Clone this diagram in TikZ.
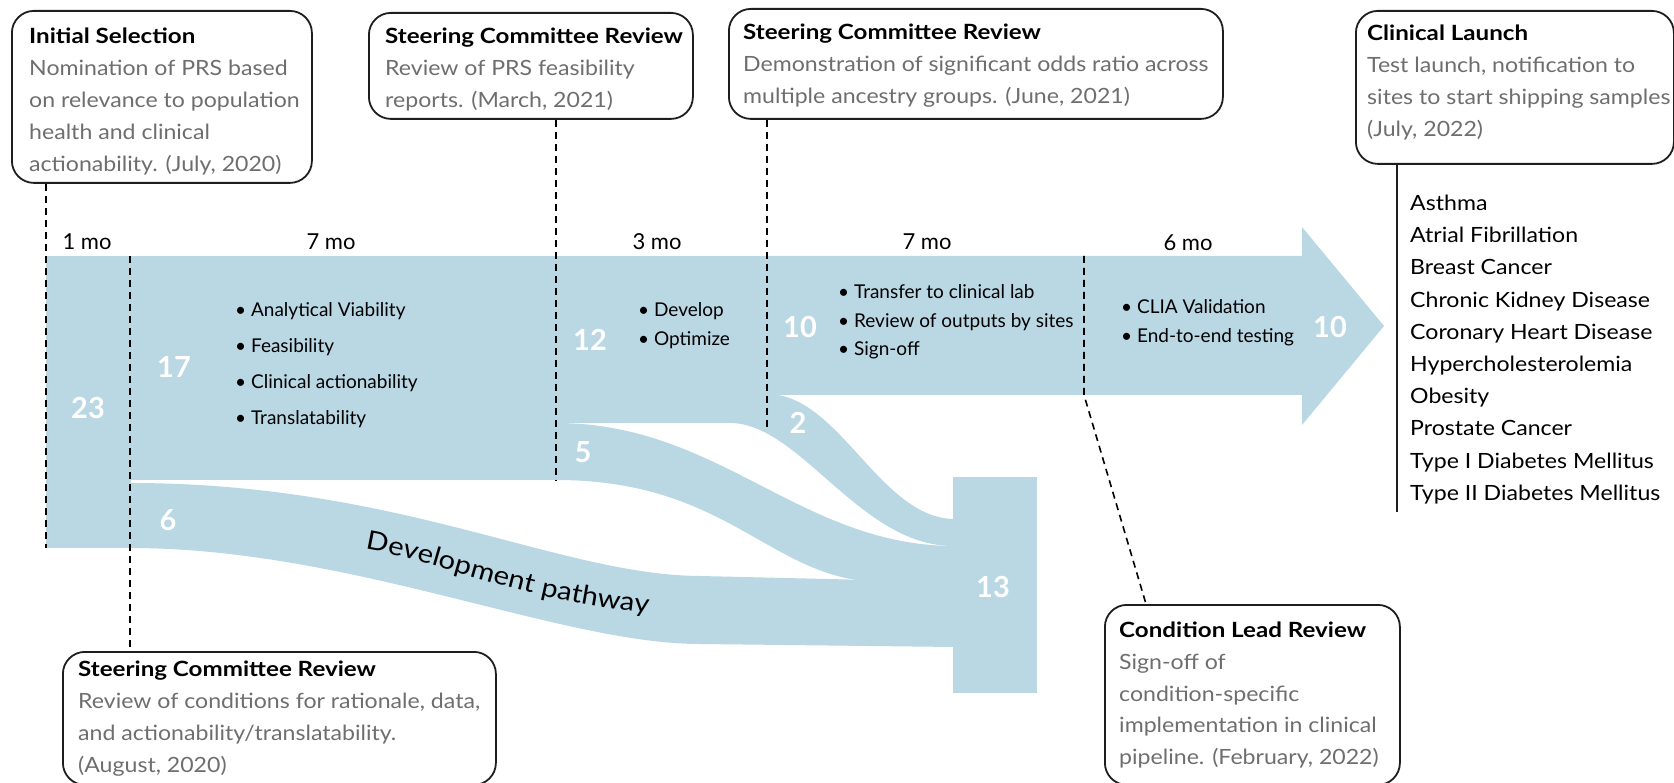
\documentclass[tikz,border=0pt]{standalone}
\usepackage{fontspec}
\setmainfont{Lato}
\newfontfamily\widef{Lato}[FakeStretch=1.1]
\newfontfamily\headf{Lato}[FakeStretch=1.15]
\newfontfamily\pathf{Lato}[FakeStretch=1.12]
\usetikzlibrary{decorations.text}
\definecolor{flow}{HTML}{BAD7E4}
\definecolor{bodygray}{HTML}{6E6E6E}
\definecolor{edge}{HTML}{1E1E1E}
\newcommand{\gr}{\color{bodygray}}
\newcommand{\hd}[1]{{\headf\bfseries #1}}
\begin{document}
\begin{tikzpicture}[x=1pt,y=-1pt,
  cbox/.style={draw=edge, line width=1.8pt, rounded corners=22pt, inner sep=0pt, anchor=north west},
  txt/.style={anchor=base west, inner sep=0pt},
  boxfont/.style={font=\widef\fontsize{21}{32}\selectfont},
  dashln/.style={draw=black, line width=1.6pt, dash pattern=on 7pt off 5pt},
  num/.style={text=white, font=\bfseries\fontsize{29}{29}\selectfont, inner sep=0pt},
  mo/.style={font=\fontsize{22}{22}\selectfont, inner sep=0pt},
]
\useasboundingbox (0,0) rectangle (1674,783);
\clip (0,0) rectangle (1674,783);

% ---- flows ----
\fill[flow] (46,256) rectangle (131,548);
\fill[flow] (130,256) rectangle (557,480);
\fill[flow] (556,256) rectangle (769,423);
\fill[flow] (768,256) -- (1302,256) -- (1302,227) -- (1384,326) -- (1302,425) -- (1302,395) -- (768,395) -- cycle;
\fill[flow] (768,394) .. controls (840,395) and (880,519) .. (955,519) -- (955,546) -- (953,546)
   .. controls (860,546) and (800,423) .. (730,423) -- (730,420) -- cycle;
\fill[flow] (556,423) .. controls (720,423) and (800,546) .. (955,546) -- (955,590) -- (880,582)
   .. controls (770,580) and (730,480) .. (556,480) -- cycle;
\fill[flow] (130,483) .. controls (400,483) and (558,575) .. (700,576) -- (955,582) -- (955,647) -- (700,644)
   .. controls (560,644) and (350,548) .. (130,548) -- cycle;
\fill[flow] (953,477) rectangle (1037,693);

% ---- numbers ----
\node[num] (n23) at (88,408) {23};
\node[num] (n17) at (174,367) {17};
\node[num] (n6) at (168,520) {6};
\node[num] (n12) at (590,340) {12};
\node[num] (n5) at (583,452) {5};
\node[num] (n10a) at (800,327) {10};
\node[num] (n2) at (798,423) {2};
\node[num] (n10b) at (1330,327) {10};
\node[num] (n13) at (993,587) {13};

% ---- month labels ----
\node[mo] (m1) at (87,242) {1 mo};
\node[mo] (m2) at (331,242) {7 mo};
\node[mo] (m3) at (657,242) {3 mo};
\node[mo] (m4) at (927,242) {7 mo};
\node[mo] (m5) at (1188,243) {6 mo};

% ---- bullet lists ----
\node[txt, font=\fontsize{19}{36}\selectfont] (l17) at (235,317) {\begin{tabular}[t]{@{}l@{}}• Analytical Viability\\ • Feasibility\\ • Clinical actionability\\ • Translatability\end{tabular}};
\node[txt, font=\fontsize{19}{29}\selectfont] (l12) at (638,317) {\begin{tabular}[t]{@{}l@{}}• Develop\\ • Optimize\end{tabular}};
\node[txt, font=\fontsize{19}{28.5}\selectfont] (l10) at (838,299) {\begin{tabular}[t]{@{}l@{}}• Transfer to clinical lab\\ • Review of outputs by sites\\ • Sign-off\end{tabular}};
\node[txt, font=\fontsize{19}{29}\selectfont] (l10b) at (1121,314) {\begin{tabular}[t]{@{}l@{}}• CLIA Validation\\ • End-to-end testing\end{tabular}};

% ---- development pathway ----
\path[decorate, decoration={text along path, text align=left,
  text={|\pathf\fontsize{26}{26}\selectfont|Development pathway}}]
  (365,549) .. controls (450,563) and (540,612) .. (710,617);

% ---- boxes ----
\node[cbox, minimum width=300pt, minimum height=172pt] (b1) at (11,10) {};
\node[txt, boxfont] (t1) at (29,43.5) {\begin{tabular}[t]{@{}l@{}}\hd{Initial Selection}\\ \gr Nomination of PRS based\\ \gr on relevance to population\\ \gr health and clinical\\ \gr actionability. (July, 2020)\end{tabular}};

\node[cbox, minimum width=324pt, minimum height=106pt] (b2) at (368,12) {};
\node[txt, boxfont] (t2) at (385,43.5) {\begin{tabular}[t]{@{}l@{}}\hd{Steering Committee Review}\\ \gr Review of PRS feasibility\\ \gr reports. (March, 2021)\end{tabular}};

\node[cbox, minimum width=494pt, minimum height=110pt] (b3) at (728,8) {};
\node[txt, boxfont] (t3) at (743,39.5) {\begin{tabular}[t]{@{}l@{}}\hd{Steering Committee Review}\\ \gr Demonstration of significant odds ratio across\\ \gr multiple ancestry groups. (June, 2021)\end{tabular}};

\node[cbox, minimum width=318pt, minimum height=153pt] (b4) at (1355,10) {};
\node[txt, boxfont] (t4) at (1367,40.5) {\begin{tabular}[t]{@{}l@{}}\hd{Clinical Launch}\\ \gr Test launch, notification to\\ \gr sites to start shipping samples\\ \gr (July, 2022)\end{tabular}};

\node[cbox, minimum width=433pt, minimum height=133pt] (b5) at (62,651) {};
\node[txt, boxfont] (t5) at (78,676) {\begin{tabular}[t]{@{}l@{}}\hd{Steering Committee Review}\\ \gr Review of conditions for rationale, data,\\ \gr and actionability/translatability.\\ \gr (August, 2020)\end{tabular}};

\node[cbox, minimum width=295pt, minimum height=180pt] (b6) at (1104,604) {};
\node[txt, font=\widef\fontsize{21}{31.75}\selectfont] (t6) at (1119,637.5) {\begin{tabular}[t]{@{}l@{}}\hd{Condition Lead Review}\\ \gr Sign-off of\\ \gr condition-specific\\ \gr implementation in clinical\\ \gr pipeline. (February, 2022)\end{tabular}};

% ---- disease list ----
\node[txt, font=\widef\fontsize{21}{32.2}\selectfont] (dl) at (1410,210.5) {\begin{tabular}[t]{@{}l@{}}Asthma\\ Atrial Fibrillation\\ Breast Cancer\\ Chronic Kidney Disease\\ Coronary Heart Disease\\ Hypercholesterolemia\\ Obesity\\ Prostate Cancer\\ Type I Diabetes Mellitus\\ Type II Diabetes Mellitus\end{tabular}};

% ---- connectors ----
\coordinate (p23) at (46,548);
\coordinate (p17) at (130,256);
\coordinate (p12) at (556,480);
\coordinate (p2) at (767,430);
\coordinate (p10t) at (1084,256);
\coordinate (p10b) at (1084,395);
\coordinate (lst) at (1397,512);
\draw[dashln] (b1.south -| p23) -- (p23);
\draw[dashln] (p17) -- (p17 |- b5.north);
\draw[dashln] (b2.south -| p12) -- (p12);
\draw[dashln] (b3.south -| p2) -- (p2);
\draw[dashln] (p10t) -- (p10b) -- ([xshift=42pt]b6.north west);
\draw[draw=edge, line width=1.8pt] (b4.south -| lst) -- (lst);
\end{tikzpicture}
\end{document}
